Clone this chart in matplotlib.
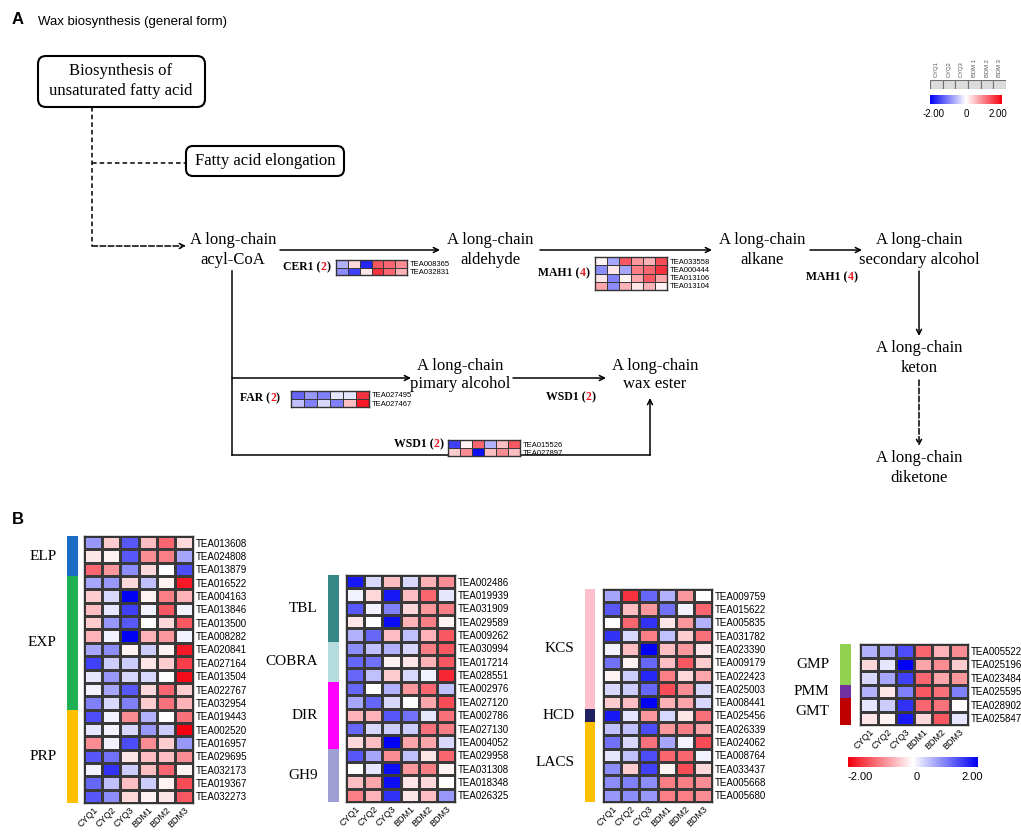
import numpy as np
import matplotlib
matplotlib.use("Agg")
import matplotlib.pyplot as plt
from matplotlib.colors import LinearSegmentedColormap
from matplotlib.patches import FancyBboxPatch
import matplotlib.colorbar as mcolorbar
from matplotlib.colors import Normalize

# ---------------- data ----------------
samples = ["CYQ1", "CYQ2", "CYQ3", "BDM1", "BDM2", "BDM3"]
legend_samples = ["CYQ1", "CYQ2", "CYQ3", "BDM 1", "BDM 2", "BDM 3"]

cer1_genes = ["TEA008365", "TEA032831"]
cer1_vals = [[-0.6, 0.3, -1.7, 1.3, 1.2, 0.9],
             [-0.9, -1.5, 0.2, 1.6, 1.2, 0.6]]

mah1_genes = ["TEA033558", "TEA000444", "TEA013106", "TEA013104"]
mah1_vals = [[0.1, -0.7, 1.3, 0.8, 0.6, 1.4],
             [-0.9, 0.2, -0.7, 1.0, 1.2, 1.6],
             [0.2, -1.0, 0.1, 0.7, 1.3, 0.7],
             [0.7, -0.9, 0.6, 0.2, 0.6, 0.1]]

far_genes = ["TEA027495", "TEA027467"]
far_vals = [[-1.2, -0.8, -1.0, -0.2, -0.2, 1.6],
            [-0.5, -1.0, -0.3, -1.0, 0.5, 1.8]]

wsd1_genes = ["TEA015526", "TEA027897"]
wsd1_vals = [[-1.5, 0.1, 1.2, -0.6, 0.5, 1.3],
             [0.4, 0.9, -1.9, 0.5, 0.9, 0.5]]

hm1_genes = ["TEA013608", "TEA024808", "TEA013879", "TEA016522", "TEA004163",
             "TEA013846", "TEA013500", "TEA008282", "TEA020841", "TEA027164",
             "TEA013504", "TEA022767", "TEA032954", "TEA019443", "TEA002520",
             "TEA016957", "TEA029695", "TEA032173", "TEA019367", "TEA032273"]
hm1_vals = [[-0.8, 0.4, -1.3, 0.5, 1.2, 0.3],
            [0.2, 0.1, -1.3, 0.9, 1.0, -0.7],
            [1.2, 0.8, -0.9, 0.3, 0.0, -1.4],
            [-0.7, -0.8, 0.3, -0.5, 0.1, 1.8],
            [0.4, -0.3, -2.0, 0.1, 1.0, 0.6],
            [0.5, -0.2, -1.5, -0.1, 1.3, -0.1],
            [0.4, -0.8, -1.3, 0.0, 0.3, 1.3],
            [0.6, -0.1, -2.0, 0.6, 0.8, -0.1],
            [-0.7, -0.9, 0.1, -0.4, 0.1, 1.8],
            [-1.5, -0.4, -0.4, 0.2, 0.4, 1.5],
            [-0.2, -0.8, -0.3, -0.3, 0.0, 1.9],
            [-0.1, -0.7, -1.3, 0.3, 1.2, 0.4],
            [-1.0, -0.3, -1.0, 0.4, 1.1, 0.6],
            [-1.4, -0.1, 0.9, -0.6, 0.0, 1.1],
            [-0.2, -0.1, -0.3, -0.8, -0.4, 2.0],
            [0.9, -0.1, -1.4, 0.9, 0.4, -0.8],
            [-1.3, -1.1, 0.2, 0.5, 0.5, 0.9],
            [-0.1, -1.6, -0.4, 0.5, 1.2, 0.1],
            [-1.2, -0.5, 0.5, -0.4, 0.1, 1.4],
            [-1.3, -0.9, 0.3, 0.1, 0.2, 1.3]]
hm1_groups = ["ELP", "EXP", "PRP"]
hm1_sizes = [3, 10, 7]

hm2_genes = ["TEA002486", "TEA019939", "TEA031909", "TEA029589", "TEA009262",
             "TEA030994", "TEA017214", "TEA028551", "TEA002976", "TEA027120",
             "TEA002786", "TEA027130", "TEA004052", "TEA029958", "TEA031308",
             "TEA018348", "TEA026325"]
hm2_vals = [[-1.8, -0.3, 0.5, -0.3, 0.6, 0.9],
            [-0.1, 0.3, -1.8, 0.5, 1.2, -0.2],
            [-1.3, -0.1, -1.0, 0.3, 0.8, 1.0],
            [0.2, 0.0, -1.9, 0.6, 1.0, 0.1],
            [-0.6, -1.2, 0.5, -0.5, 0.6, 1.3],
            [-0.9, -0.5, -0.6, -0.3, 1.0, 1.3],
            [-1.2, -1.1, 0.1, 0.2, 0.6, 1.3],
            [-1.2, -0.5, 0.4, -0.3, -0.1, 1.7],
            [-1.2, 0.0, -0.6, 0.8, 1.2, -0.5],
            [-0.7, -1.2, -0.3, 0.0, 0.7, 1.4],
            [0.6, 0.6, -1.3, -1.1, -0.2, 1.1],
            [-1.2, -0.3, -0.4, -0.4, 1.1, 1.0],
            [0.3, 0.5, -2.0, 0.7, 0.7, -0.3],
            [-1.3, -0.7, 0.9, -0.5, 0.2, 1.2],
            [0.0, -0.2, -1.9, 0.8, 1.0, 0.1],
            [0.5, 0.7, -1.9, 0.2, 0.3, 0.0],
            [1.0, 0.6, -1.6, 0.2, 0.5, -0.8]]
hm2_groups = ["TBL", "COBRA", "DIR", "GH9"]
hm2_sizes = [5, 3, 5, 4]

hm3_genes = ["TEA009759", "TEA015622", "TEA005835", "TEA031782", "TEA023390",
             "TEA009179", "TEA022423", "TEA025003", "TEA008441", "TEA025456",
             "TEA026339", "TEA024062", "TEA008764", "TEA033437", "TEA005668",
             "TEA005680"]
hm3_vals = [[-0.7, 1.6, -1.2, -0.6, 0.8, 0.0],
            [-1.3, 0.5, 0.8, -1.1, -0.1, 1.2],
            [0.0, 1.2, -1.6, 0.2, 0.8, -0.6],
            [-1.6, -0.3, 1.0, -0.5, 0.4, 1.1],
            [-0.1, 0.5, -2.0, 0.5, 0.8, 0.2],
            [-1.1, 0.1, -1.2, 0.5, 1.3, 0.4],
            [0.1, -0.4, -1.7, 1.0, 0.3, 0.7],
            [-0.3, -0.4, -1.2, 1.4, 0.9, -0.3],
            [0.4, 0.5, -2.0, 0.6, 0.7, -0.3],
            [-1.8, -0.2, 0.8, -0.3, 0.2, 1.1],
            [-0.5, -0.5, -1.4, 0.8, 1.0, 0.7],
            [-1.1, -0.3, 1.1, -0.7, -0.1, 1.4],
            [-0.2, -0.5, -1.4, 1.2, 1.2, -0.1],
            [-0.9, 0.4, -1.5, 0.1, 1.4, 0.3],
            [-0.9, -1.0, -0.9, 1.0, 1.0, 0.9],
            [-0.8, -0.9, -0.8, 1.0, 1.0, 0.9]]
hm3_groups = ["KCS", "HCD", "LACS"]
hm3_sizes = [9, 1, 6]

hm4_genes = ["TEA005522", "TEA025196", "TEA023484", "TEA025595", "TEA028902",
             "TEA025847"]
hm4_vals = [[-0.6, -0.7, -1.4, 1.2, 0.6, 0.9],
            [0.3, -0.2, -2.0, 0.7, 0.9, 0.4],
            [-0.3, -0.7, -1.5, 1.2, 0.7, 0.8],
            [-0.6, 0.2, -1.0, 1.3, 1.1, -1.0],
            [-0.2, -0.4, -1.6, 1.2, 1.1, 0.0],
            [0.2, 0.1, -1.8, 0.3, 1.3, -0.2]]
hm4_groups = ["GMP", "PMM", "GMT"]
hm4_sizes = [3, 1, 2]

# ---------------- style ----------------
W, H = 1021, 832
fig = plt.figure(figsize=(W / 100, H / 100), dpi=100)
cmap = LinearSegmentedColormap.from_list("bwr2", ["#0000f5", "#ffffff", "#f50010"])
SERIF = "Liberation Serif"
SANS = "Liberation Sans"

ax0 = fig.add_axes([0, 0, 1, 1])
ax0.set_xlim(0, W)
ax0.set_ylim(H, 0)
ax0.axis("off")


def px_axes(x0, y0, x1, y1):
    return fig.add_axes([x0 / W, 1 - y1 / H, (x1 - x0) / W, (y1 - y0) / H])


def heatmap(box, vals, genes, gene_fs=7, xlabels=True, lw=0.8):
    ax = px_axes(*box)
    v = np.array(vals)
    ax.pcolormesh(v, cmap=cmap, vmin=-2, vmax=2, edgecolors="#3a3a3a", linewidth=lw)
    ax.set_xlim(0, v.shape[1])
    ax.set_ylim(v.shape[0], 0)
    for s in ax.spines.values():
        s.set_linewidth(1.0)
        s.set_color("#333333")
    ax.yaxis.tick_right()
    ax.set_yticks(np.arange(len(genes)) + 0.5)
    ax.set_yticklabels(genes, fontsize=gene_fs, family=SANS)
    ax.tick_params(axis="y", length=0, pad=2)
    if xlabels:
        ax.set_xticks(np.arange(len(samples)) + 0.5)
        ax.set_xticklabels(samples, rotation=45, ha="right", va="top",
                           rotation_mode="anchor", fontsize=6.5, family=SANS)
        ax.tick_params(axis="x", length=0, pad=2)
    else:
        ax.set_xticks([])
    return ax


def group_bar(box, names, sizes, colors, label_dx=7.5, fs=11):
    ax = px_axes(*box)
    n = sum(sizes)
    starts = np.concatenate([[0], np.cumsum(sizes)[:-1]])
    ax.barh(starts, [1] * len(sizes), height=sizes, left=0, align="edge",
            color=colors, linewidth=0)
    ax.set_xlim(0, 1)
    ax.set_ylim(n, 0)
    ax.axis("off")
    for nm, st, sz in zip(names, starts, sizes):
        ax.annotate(nm, xy=(0, st + sz / 2), xycoords=("axes fraction", "data"),
                    xytext=(-label_dx, 0), textcoords="offset points",
                    ha="right", va="center", fontsize=fs, family=SERIF)
    return ax


renderer = fig.canvas.get_renderer()


def multicolor(x, y, parts, fs=8.5):
    cx = x
    for s, c in parts:
        t = ax0.text(cx, y, s, color=c, ha="left", va="center", fontsize=fs,
                     family=SERIF, weight="bold")
        cx += t.get_window_extent(renderer).width


def arrow(p0, p1, dashed=False):
    ax0.annotate("", xy=p1, xytext=p0,
                 arrowprops=dict(arrowstyle="->", lw=1.1, color="black",
                                 linestyle="--" if dashed else "-",
                                 shrinkA=0, shrinkB=0, mutation_scale=9))


def line(xs, ys, dashed=False):
    ax0.plot(xs, ys, color="black", lw=1.1, ls=(0, (3, 2)) if dashed else "-")


# ---------------- panel A ----------------
ax0.text(12, 20, "A", fontsize=12, weight="bold", family=SANS, va="center")
ax0.text(38, 22, "Wax biosynthesis (general form)", fontsize=9.5, family=SANS,
         va="center")

ax0.add_patch(FancyBboxPatch((38, 56), 167, 51, boxstyle="round,pad=0,rounding_size=8",
                             fc="white", ec="black", lw=1.5))
ax0.text(121, 81, "Biosynthesis of\nunsaturated fatty acid", ha="center", va="center",
         fontsize=12, family=SERIF, linespacing=1.3)
ax0.add_patch(FancyBboxPatch((186, 146), 158, 30, boxstyle="round,pad=0,rounding_size=7",
                             fc="white", ec="black", lw=1.5))
ax0.text(265, 161, "Fatty acid elongation", ha="center", va="center",
         fontsize=12, family=SERIF)

line([92, 92], [107, 246], dashed=True)
line([92, 186], [163, 163], dashed=True)
arrow((92, 246), (186, 246), dashed=True)

nodes = [(233, 250, "A long-chain\nacyl-CoA"),
         (490, 250, "A long-chain\naldehyde"),
         (762, 250, "A long-chain\nalkane"),
         (919, 250, "A long-chain\nsecondary alcohol"),
         (919, 358, "A long-chain\nketon"),
         (919, 468, "A long-chain\ndiketone"),
         (460, 375, "A long-chain\npimary alcohol"),
         (655, 375, "A long-chain\nwax ester")]
for x, y, s in nodes:
    ax0.text(x, y, s, ha="center", va="center", fontsize=12, family=SERIF,
             linespacing=1.25)

arrow((280, 250), (440, 250))
arrow((540, 250), (712, 250))
arrow((810, 250), (862, 250))
arrow((919, 271), (919, 336))
arrow((919, 380), (919, 446), dashed=True)
line([232, 232], [271, 455])
arrow((232, 378), (411, 378))
arrow((513, 378), (606, 378))
line([232, 650], [455, 455])
arrow((650, 455), (650, 398))

RED = "#e8141e"
multicolor(283, 267, [("CER1 (", "black"), ("2", RED), (")", "black")])
multicolor(538, 273, [("MAH1 (", "black"), ("4", RED), (")", "black")])
multicolor(806, 277, [("MAH1 (", "black"), ("4", RED), (")", "black")])
multicolor(240, 398, [("FAR (", "black"), ("2", RED), (")", "black")])
multicolor(546, 397, [("WSD1 (", "black"), ("2", RED), (")", "black")])
multicolor(394, 444, [("WSD1 (", "black"), ("2", RED), (")", "black")])

heatmap((336, 260, 407, 275), cer1_vals, cer1_genes, gene_fs=5.5, xlabels=False, lw=0.6)
heatmap((595, 257, 667, 290), mah1_vals, mah1_genes, gene_fs=5.5, xlabels=False, lw=0.6)
heatmap((291, 391, 369, 407), far_vals, far_genes, gene_fs=5.5, xlabels=False, lw=0.6)
heatmap((448, 440, 520, 456), wsd1_vals, wsd1_genes, gene_fs=5.5, xlabels=False, lw=0.6)

# top legend
axl = px_axes(930, 80, 1006, 89)
axl.bar(np.arange(len(legend_samples)), [1] * len(legend_samples), width=1, align="edge",
        color="#dcdcdc", edgecolor="#707070", linewidth=0.8)
axl.set_xlim(0, len(legend_samples))
axl.set_ylim(0, 1)
axl.axis("off")
for i, s in enumerate(legend_samples):
    axl.annotate(s, xy=(i + 0.5, 1), xycoords=("data", "axes fraction"),
                 xytext=(0, 2), textcoords="offset points", rotation=90,
                 ha="center", va="bottom", fontsize=4.2, family=SANS, color="#555555")
axc = px_axes(930, 95, 1002, 104)
cb = mcolorbar.ColorbarBase(axc, cmap=cmap, norm=Normalize(-2, 2), orientation="horizontal")
cb.outline.set_visible(False)
axc.set_xticks([])
ax0.text(934, 114, "-2.00", ha="center", va="center", fontsize=7, family=SANS)
ax0.text(966, 114, "0", ha="center", va="center", fontsize=7, family=SANS)
ax0.text(998, 114, "2.00", ha="center", va="center", fontsize=7, family=SANS)

# ---------------- panel B ----------------
ax0.text(12, 520, "B", fontsize=12, weight="bold", family=SANS, va="center")

heatmap((84, 536, 193, 803), hm1_vals, hm1_genes)
group_bar((67, 536, 78, 803), hm1_groups, hm1_sizes, ["#1c6cc4", "#1db154", "#ffc000"])

heatmap((346, 575, 455, 802), hm2_vals, hm2_genes)
group_bar((328, 575, 339, 802), hm2_groups, hm2_sizes, ["#358686", "#b4dcdc", "#ff00ff", "#9f9fd6"])

heatmap((603, 589, 712, 802), hm3_vals, hm3_genes)
group_bar((585, 589, 595, 802), hm3_groups, hm3_sizes, ["#ffc0cb", "#1f2060", "#ffc000"])

heatmap((860, 644, 968, 725), hm4_vals, hm4_genes)
group_bar((840, 644, 851, 725), hm4_groups, hm4_sizes, ["#92d050", "#7030a0", "#c00000"])

axc2 = px_axes(848, 757, 978, 767)
cb2 = mcolorbar.ColorbarBase(axc2, cmap=cmap.reversed(), norm=Normalize(-2, 2),
                             orientation="horizontal")
cb2.outline.set_visible(False)
axc2.set_xticks([])
ax0.text(860, 777, "-2.00", ha="center", va="center", fontsize=8, family=SANS)
ax0.text(917, 777, "0", ha="center", va="center", fontsize=8, family=SANS)
ax0.text(972, 777, "2.00", ha="center", va="center", fontsize=8, family=SANS)

fig.savefig("out.png", dpi=100)
